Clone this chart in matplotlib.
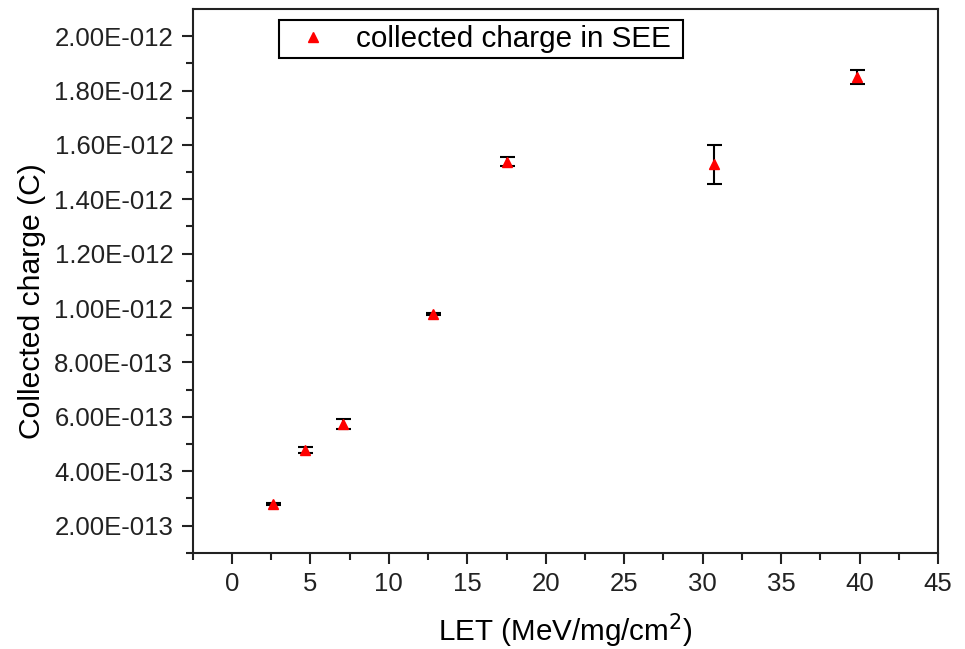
import matplotlib
matplotlib.use("Agg")
import matplotlib.pyplot as plt
from matplotlib.patches import Rectangle
from matplotlib.ticker import MultipleLocator, FixedLocator, FuncFormatter
import numpy as np

# LET (MeV/mg/cm2) vs collected charge (C)
let_vals    = [2.6, 4.65, 7.05, 12.8, 17.55, 30.74, 39.85]
charge_vals = [2.78e-13, 4.77e-13, 5.73e-13, 9.78e-13, 1.539e-12, 1.529e-12, 1.850e-12]
charge_err  = [0.04e-13, 0.10e-13, 0.17e-13, 0.05e-13, 0.18e-13, 0.72e-13, 0.27e-13]
x_ticks = [0, 5, 10, 15, 20, 25, 30, 35, 40, 45]
y_ticks = [2e-13, 4e-13, 6e-13, 8e-13, 1e-12, 1.2e-12, 1.4e-12, 1.6e-12, 1.8e-12, 2e-12]
legend_label = "collected charge in SEE"

plt.rcParams['font.family'] = ['Liberation Sans', 'DejaVu Sans']
W, H = 965, 649

fig = plt.figure(figsize=(W / 100, H / 100), dpi=100)
ax = fig.add_axes([0.1997, 0.1484, 0.972 - 0.1997, 0.9861 - 0.1484])

ax.errorbar(let_vals, charge_vals, yerr=charge_err, fmt="none", ecolor="black",
            elinewidth=1.5, capsize=5.4, capthick=1.5, zorder=2)
ax.plot(let_vals, charge_vals, ls="none", marker="^", ms=7, color="red",
        mec="red", label=legend_label, zorder=3)

ax.set_xlim(-2.5, 45)
ax.set_ylim(1e-13, 2.1e-12)
ax.xaxis.set_major_locator(FixedLocator(x_ticks))
ax.xaxis.set_minor_locator(MultipleLocator(2.5))
ax.yaxis.set_major_locator(FixedLocator(y_ticks))
ax.yaxis.set_minor_locator(FixedLocator(np.arange(1, 21) * 1e-13))

def sci_fmt(v, pos):
  m, e = f"{v:.2E}".split("E")
  return f"{m}E-{abs(int(e)):03d}"
ax.yaxis.set_major_formatter(FuncFormatter(sci_fmt))

for s in ax.spines.values():
  s.set_linewidth(1.5); s.set_color("#222222")
ax.tick_params(which="both", direction="out", width=1.5, top=False, right=False,
               labelsize=18.5, colors="#222222")
ax.tick_params(which="major", length=8, pad=6)
ax.tick_params(which="minor", length=5)

ax.set_xlabel("LET (MeV/mg/cm$^2$)", fontsize=21.3, labelpad=11)
ax.set_ylabel("Collected charge (C)", fontsize=21.7)
ax.yaxis.set_label_coords(-0.197, 0.463)

# legend without its own frame; box drawn separately
leg = ax.legend(loc="center left", bbox_to_anchor=(290.7 / W, 1 - 39 / H),
                bbox_transform=fig.transFigure, borderaxespad=0, borderpad=0,
                fontsize=21.3, frameon=False, handlelength=1.54, handletextpad=0.68,
                numpoints=1)
fig.patches.append(Rectangle((279 / W, 1 - 58 / H), (683 - 279) / W, 38 / H,
                             transform=fig.transFigure, fill=False,
                             edgecolor="black", lw=1.5, zorder=5))

fig.savefig("out.png", dpi=100)
